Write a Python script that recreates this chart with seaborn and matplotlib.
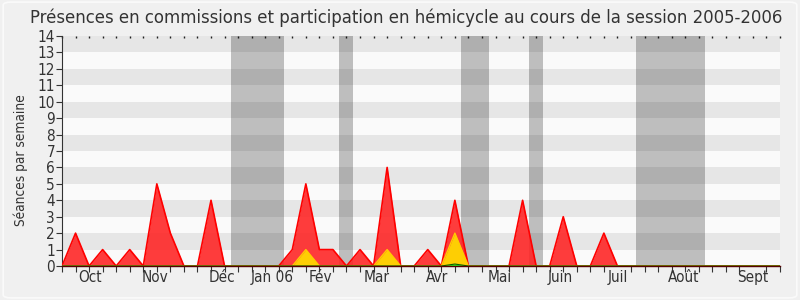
import numpy as np
import pandas as pd
import matplotlib
matplotlib.use("Agg")
import matplotlib.pyplot as plt
from matplotlib.patches import FancyBboxPatch
import seaborn as sns

# Weekly values (week index 0..53)
weeks = list(range(54))
commissions = [0, 2, 0, 1, 0, 1, 0, 5, 2, 0, 0, 4, 0, 0, 0, 0, 0, 1, 5, 1,
               1, 0, 1, 0, 6, 0, 0, 1, 0, 4, 0, 0, 0, 0, 4, 0, 0, 3, 0, 0,
               2, 0, 0, 0, 0, 0, 0, 0, 0, 0, 0, 0, 0, 0]
hemicycle = [0, 0, 0, 0, 0, 0, 0, 0, 0, 0, 0, 0, 0, 0, 0, 0, 0, 0, 1, 0,
             0, 0, 0, 0, 1, 0, 0, 0, 0, 2, 0, 0, 0, 0, 0, 0, 0, 0, 0, 0,
             0, 0, 0, 0, 0, 0, 0, 0, 0, 0, 0, 0, 0, 0]
questions = [0] * 29 + [0.12] + [0] * 24

month_labels = ["Oct", "Nov", "Déc", "Jan 06", "Fév", "Mar", "Avr", "Mai",
                "Juin", "Juil", "Août", "Sept"]
month_pos = [2.07, 6.86, 11.8, 15.5, 19.04, 23.2, 27.7, 32.3, 36.8, 41.0, 45.9, 51.0]

# holiday periods (week units)
holidays = [(12.45, 16.38), (20.44, 21.48), (29.45, 31.5), (34.46, 35.5), (42.4, 47.5)]

df = pd.DataFrame({"week": weeks, "commissions": commissions,
                   "hemicycle": hemicycle, "questions": questions})

sns.set_theme(style="white")
plt.rcParams["font.family"] = ["DejaVu Sans"]
plt.rcParams["font.stretch"] = "condensed"

fig = plt.figure(figsize=(8, 3), dpi=100, facecolor="#f0f0f0")
fig.patches.append(FancyBboxPatch((0.004, 0.007), 0.992, 0.986,
                                  boxstyle="round,pad=0,rounding_size=0.01",
                                  transform=fig.transFigure, facecolor="none",
                                  edgecolor="#fafafa", lw=1.2))
ax = fig.add_axes([0.0775, 0.1133, 0.8975, 0.7667])
ax.set_facecolor("#fafafa")

# horizontal bands
for y0 in range(1, 14, 2):
    ax.axhspan(y0, y0 + 1, color="#e6e6e6", lw=0, zorder=0)

# holiday shading
for a, b in holidays:
    ax.axvspan(a, b, color="black", alpha=0.24, lw=0, zorder=1)

ax.fill_between(df["week"], 0, df["commissions"], color="#ff2222", alpha=0.88, lw=0, zorder=2)
sns.lineplot(data=df, x="week", y="commissions", color="#ff0000", lw=1.2, ax=ax, zorder=3)
ax.fill_between(df["week"], 0, df["hemicycle"], color="#ffd700", alpha=0.95, lw=0, zorder=4)
sns.lineplot(data=df, x="week", y="hemicycle", color="#ffcc00", lw=1.0, ax=ax, zorder=5)
ax.fill_between(df["week"], 0, df["questions"], color="#22ee22", lw=0, zorder=6)
sns.lineplot(data=df, x="week", y="questions", color="#006600", lw=0.8, ax=ax, zorder=7)

ax.set_xlim(0, 53)
ax.set_ylim(0, 14)
ax.set_yticks(range(0, 15))
ax.set_xticks(month_pos)
ax.set_xticklabels(month_labels)
ax.set_xticks(weeks, minor=True)
ax.tick_params(axis="x", which="major", length=0, pad=3, labelsize=11, colors="#333333")
ax.tick_params(axis="x", which="minor", length=4, width=0.8, color="#333333",
               direction="out", bottom=True, top=False)
ax.tick_params(axis="y", length=4, width=0.8, color="#333333", labelsize=11,
               labelcolor="#333333", left=True, pad=1)
ax.set_xlabel("")
ax.set_ylabel("Séances par semaine", fontsize=9.8, color="#333333")
ax.yaxis.set_label_coords(-0.047, 0.46)

# top dotted ticks
ax2 = ax.secondary_xaxis("top")
ax2.set_xticks(weeks)
ax2.set_xticklabels([])
ax2.tick_params(length=1.5, width=1, color="#222222", direction="in")
ax2.spines["top"].set_visible(False)

for s in ["top", "right"]:
    ax.spines[s].set_visible(False)
ax.spines["left"].set_color("#333333")
ax.spines["left"].set_linewidth(0.8)
ax.spines["bottom"].set_color("#550000")
ax.spines["bottom"].set_linewidth(1.0)
ax.spines["bottom"].set_zorder(8)

fig.text(0.508, 0.94, "Présences en commissions et participation en hémicycle au cours de la session 2005-2006",
         ha="center", va="center", fontsize=13.2, color="#333333")

fig.savefig("out.png", dpi=100, facecolor=fig.get_facecolor())
